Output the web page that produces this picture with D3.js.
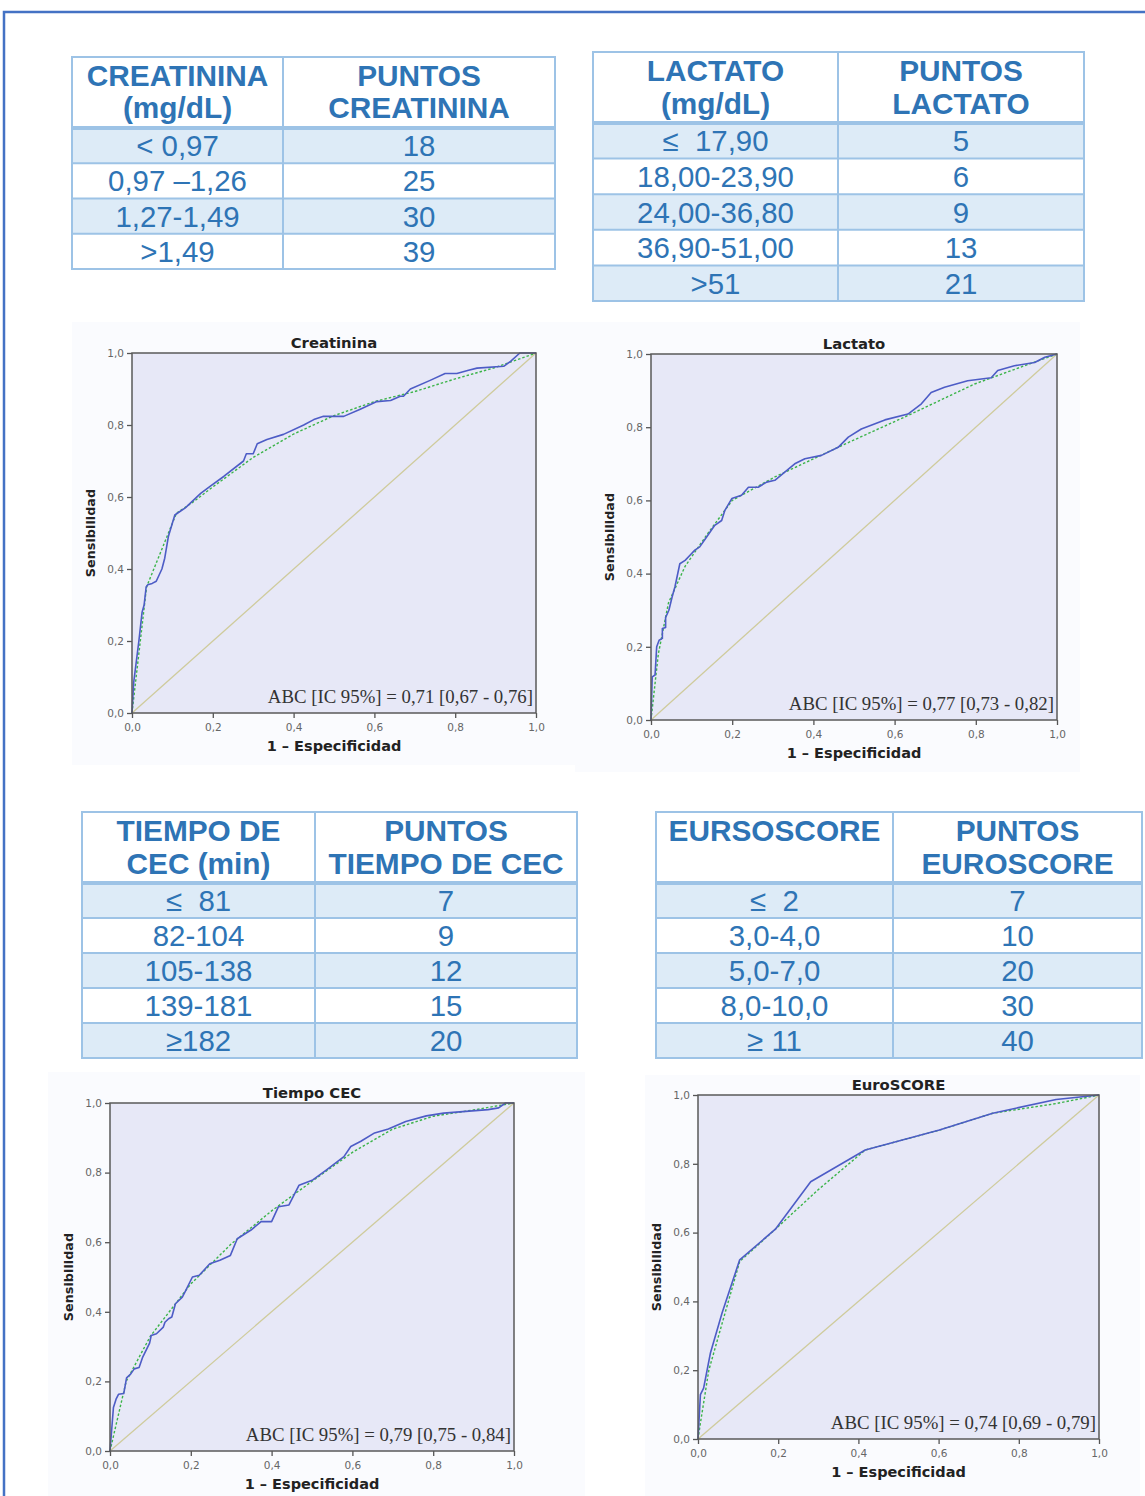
<!DOCTYPE html>
<html>
<head>
<meta charset="utf-8">
<script src="https://cdn.jsdelivr.net/npm/d3@7"></script>
<style>
  body { margin: 0; background: #fff; }
  svg { display: block; }
  text { white-space: pre; }
</style>
</head>
<body>
<svg id="chart" width="1145" height="1496"></svg>
<script>
// tablas de puntos
var creatininaCabecera = [["CREATININA", "(mg/dL)"], ["PUNTOS", "CREATININA"]];
var creatininaRangos = ["< 0,97", "0,97 \u20131,26", "1,27-1,49", ">1,49"];
var creatininaPuntos = [18, 25, 30, 39];

var lactatoCabecera = [["LACTATO", "(mg/dL)"], ["PUNTOS", "LACTATO"]];
var lactatoRangos = ["\u2264  17,90", "18,00-23,90", "24,00-36,80", "36,90-51,00", ">51"];
var lactatoPuntos = [5, 6, 9, 13, 21];

var cecCabecera = [["TIEMPO DE", "CEC (min)"], ["PUNTOS", "TIEMPO DE CEC"]];
var cecRangos = ["\u2264  81", "82-104", "105-138", "139-181", "\u2265182"];
var cecPuntos = [7, 9, 12, 15, 20];

var euroCabecera = [["EURSOSCORE"], ["PUNTOS", "EUROSCORE"]];
var euroRangos = ["\u2264  2", "3,0-4,0", "5,0-7,0", "8,0-10,0", "\u2265 11"];
var euroPuntos = [7, 10, 20, 30, 40];

// curvas ROC [1 - especificidad, sensibilidad]
var creatininaRoc = [[0,0],[0.004,0.083],[0.017,0.2],[0.019,0.22],[0.025,0.28],[0.03,0.3],[0.035,0.35],
  [0.039,0.356],[0.05,0.36],[0.06,0.366],[0.074,0.4],[0.081,0.43],[0.09,0.49],[0.106,0.55],[0.115,0.557],
  [0.132,0.57],[0.17,0.61],[0.194,0.63],[0.227,0.657],[0.276,0.7],[0.283,0.72],[0.3,0.72],[0.31,0.748],
  [0.334,0.76],[0.375,0.774],[0.425,0.8],[0.45,0.815],[0.474,0.824],[0.524,0.824],[0.565,0.844],[0.606,0.865],
  [0.64,0.868],[0.664,0.88],[0.672,0.88],[0.689,0.9],[0.738,0.924],[0.775,0.943],[0.804,0.943],[0.833,0.952],
  [0.854,0.958],[0.92,0.963],[0.937,0.977],[0.96,1],[1,1]];
var creatininaAjuste = [[0,0],[0.036,0.35],[0.11,0.555],[0.15,0.585],[0.2,0.628],[0.3,0.71],[0.4,0.775],
  [0.5,0.826],[0.6,0.865],[0.7,0.893],[0.8,0.928],[0.9,0.96],[1,1]];

var lactatoRoc = [[0,0],[0.003,0.118],[0.01,0.123],[0.014,0.2],[0.02,0.218],[0.028,0.223],[0.028,0.25],
  [0.036,0.253],[0.036,0.28],[0.044,0.3],[0.052,0.336],[0.059,0.364],[0.071,0.427],[0.084,0.436],[0.096,0.45],
  [0.108,0.464],[0.12,0.473],[0.137,0.5],[0.157,0.532],[0.174,0.545],[0.182,0.573],[0.199,0.605],[0.223,0.614],
  [0.24,0.636],[0.264,0.636],[0.285,0.65],[0.305,0.655],[0.354,0.7],[0.379,0.714],[0.42,0.723],[0.461,0.745],
  [0.486,0.773],[0.518,0.795],[0.576,0.82],[0.633,0.836],[0.666,0.864],[0.69,0.895],[0.723,0.909],[0.78,0.927],
  [0.838,0.935],[0.854,0.955],[0.895,0.968],[0.945,0.977],[0.97,0.991],[1,1]];
var lactatoAjuste = [[0,0],[0.018,0.18],[0.043,0.32],[0.084,0.42],[0.14,0.51],[0.2,0.6],[0.305,0.664],
  [0.47,0.75],[0.633,0.832],[0.797,0.918],[0.92,0.968],[1,1]];

var cecRoc = [[0,0],[0.0085,0.125],[0.015,0.149],[0.021,0.163],[0.034,0.165],[0.041,0.21],[0.051,0.221],
  [0.06,0.236],[0.072,0.24],[0.081,0.27],[0.098,0.31],[0.102,0.332],[0.115,0.337],[0.132,0.356],[0.136,0.37],
  [0.145,0.38],[0.153,0.385],[0.162,0.423],[0.179,0.442],[0.187,0.46],[0.204,0.5],[0.221,0.505],[0.247,0.538],
  [0.272,0.548],[0.298,0.562],[0.315,0.61],[0.349,0.635],[0.374,0.659],[0.4,0.659],[0.417,0.702],[0.443,0.707],
  [0.468,0.764],[0.502,0.779],[0.536,0.808],[0.579,0.846],[0.596,0.875],[0.621,0.89],[0.655,0.914],[0.689,0.925],
  [0.732,0.947],[0.783,0.963],[0.826,0.971],[0.936,0.981],[0.962,0.986],[0.979,1],[1,1]];
var cecAjuste = [[0,0],[0.04,0.2],[0.1,0.33],[0.2,0.48],[0.3,0.595],[0.4,0.69],[0.5,0.775],[0.6,0.858],
  [0.7,0.925],[0.8,0.962],[0.9,0.98],[1,1]];

var euroRoc = [[0,0],[0.006,0.129],[0.014,0.148],[0.031,0.25],[0.06,0.366],[0.104,0.521],[0.193,0.61],
  [0.281,0.748],[0.417,0.84],[0.602,0.898],[0.735,0.947],[0.893,0.987],[1,1]];
var euroAjuste = [[0,0],[0.006,0.046],[0.027,0.2],[0.104,0.516],[0.193,0.61],[0.3,0.725],[0.417,0.84],
  [0.602,0.898],[0.735,0.947],[0.893,0.975],[1,1]];

var titulos = ["Creatinina", "Lactato", "Tiempo CEC", "EuroSCORE"];
var abcTextos = ["ABC [IC 95%] = 0,71 [0,67 - 0,76]", "ABC [IC 95%] = 0,77 [0,73 - 0,82]",
  "ABC [IC 95%] = 0,79 [0,75 - 0,84]", "ABC [IC 95%] = 0,74 [0,69 - 0,79]"];
var ticks = [0, 0.2, 0.4, 0.6, 0.8, 1];

var AZUL = "#2e74b5",
  BORDE = "#9dc3e6",
  FRANJA = "#ddebf7";

var svg = d3.select("#chart");

// marco exterior
svg.append("path")
  .attr("d", d3.line()([[4, 1496], [4, 12], [1145, 12]]))
  .attr("fill", "none")
  .attr("stroke", "#4472c4")
  .attr("stroke-width", 2.5);

var fmt = d3.formatLocale({ decimal: ",", thousands: ".", grouping: [3], currency: ["", "\u20ac"] }).format(".1f");

function drawTable(cfg, cabecera, rangos, puntos) {
  var g = svg.append("g");
  var cols = [cfg.x0, cfg.split, cfg.x1];
  var filas = rangos.map(function(r, i) { return { rango: r, puntos: puntos[i], i: i }; });

  var yRow = d3.scaleBand().domain(d3.range(rangos.length)).range([cfg.headBottom, cfg.bottom]);

  g.selectAll("rect.franja").data(filas.filter(function(d) { return d.i % 2 === 0; }))
    .enter().append("rect")
    .attr("x", cfg.x0).attr("width", cfg.x1 - cfg.x0)
    .attr("y", function(d) { return yRow(d.i); })
    .attr("height", yRow.bandwidth())
    .attr("fill", FRANJA);

  // lineas horizontales
  var hs = d3.range(1, rangos.length).map(function(i) { return yRow(i); });
  g.selectAll("line.h").data(hs).enter().append("line")
    .attr("x1", cfg.x0).attr("x2", cfg.x1)
    .attr("y1", function(d) { return d; }).attr("y2", function(d) { return d; })
    .attr("stroke", BORDE).attr("stroke-width", 2);
  g.append("line")
    .attr("x1", cfg.x0).attr("x2", cfg.x1)
    .attr("y1", cfg.headBottom).attr("y2", cfg.headBottom)
    .attr("stroke", BORDE).attr("stroke-width", 4);
  g.append("line")
    .attr("x1", cfg.split).attr("x2", cfg.split)
    .attr("y1", cfg.top).attr("y2", cfg.bottom)
    .attr("stroke", BORDE).attr("stroke-width", 2);
  g.append("rect")
    .attr("x", cfg.x0).attr("y", cfg.top)
    .attr("width", cfg.x1 - cfg.x0).attr("height", cfg.bottom - cfg.top)
    .attr("fill", "none").attr("stroke", BORDE).attr("stroke-width", 2);

  // cabecera
  cabecera.forEach(function(lineas, c) {
    var cx = (cols[c] + cols[c + 1]) / 2;
    lineas.forEach(function(t, k) {
      g.append("text")
        .attr("x", cx).attr("y", cfg.headBase[k])
        .attr("text-anchor", "middle")
        .attr("font-family", "'Liberation Sans', Arial, sans-serif")
        .attr("font-weight", "bold").attr("font-size", 29.8)
        .attr("fill", AZUL)
        .text(t);
    });
  });

  // cuerpo
  var cuerpo = g.selectAll("g.fila").data(filas).enter().append("g")
    .attr("transform", function(d) { return "translate(0," + (yRow(d.i) + yRow.bandwidth() / 2 + 10.5) + ")"; });
  cuerpo.append("text")
    .attr("x", (cols[0] + cols[1]) / 2)
    .text(function(d) { return d.rango; });
  cuerpo.append("text")
    .attr("x", (cols[1] + cols[2]) / 2)
    .text(function(d) { return d.puntos; });
  cuerpo.selectAll("text")
    .attr("text-anchor", "middle")
    .attr("font-family", "'Liberation Sans', Arial, sans-serif")
    .attr("font-size", 29.4)
    .attr("fill", AZUL);
}

drawTable({ x0: 72, split: 283, x1: 555, top: 57, headBottom: 128, bottom: 269, headBase: [86, 118] },
  creatininaCabecera, creatininaRangos, creatininaPuntos);
drawTable({ x0: 593, split: 838, x1: 1084, top: 52, headBottom: 123, bottom: 301, headBase: [81, 114] },
  lactatoCabecera, lactatoRangos, lactatoPuntos);
drawTable({ x0: 82, split: 315, x1: 577, top: 812, headBottom: 883, bottom: 1058, headBase: [841, 874] },
  cecCabecera, cecRangos, cecPuntos);
drawTable({ x0: 656, split: 893, x1: 1142, top: 812, headBottom: 883, bottom: 1058, headBase: [841, 874] },
  euroCabecera, euroRangos, euroPuntos);

function drawRoc(cfg, titulo, abc, roc, ajuste) {
  var g = svg.append("g");
  g.append("rect")
    .attr("x", cfg.box[0]).attr("y", cfg.box[1])
    .attr("width", cfg.box[2]).attr("height", cfg.box[3])
    .attr("fill", "#fafbfe");

  var x = d3.scaleLinear().domain([0, 1]).range([cfg.left, cfg.right]);
  var y = d3.scaleLinear().domain([0, 1]).range([cfg.bottom, cfg.top]);

  g.append("rect")
    .attr("x", x(0)).attr("y", y(1))
    .attr("width", x(1) - x(0)).attr("height", y(0) - y(1))
    .attr("fill", "#e7e8f7");

  var line = d3.line().x(function(d) { return x(d[0]); }).y(function(d) { return y(d[1]); });

  g.append("path").attr("d", line([[0, 0], [1, 1]]))
    .attr("fill", "none").attr("stroke", "#cfcb9c").attr("stroke-width", 1.3);
  g.append("path").attr("d", line(ajuste))
    .attr("fill", "none").attr("stroke", "#3cb44a").attr("stroke-width", 1.4)
    .attr("stroke-dasharray", "2.5,2");
  g.append("path").attr("d", line(roc))
    .attr("fill", "none").attr("stroke", "#4d5cc6").attr("stroke-width", 1.6)
    .attr("stroke-linejoin", "round");

  var xAxis = g.append("g").attr("transform", "translate(0," + cfg.bottom + ")")
    .call(d3.axisBottom(x).tickValues(ticks).tickFormat(fmt).tickSize(5).tickSizeOuter(0));
  var yAxis = g.append("g").attr("transform", "translate(" + cfg.left + ",0)")
    .call(d3.axisLeft(y).tickValues(ticks).tickFormat(fmt).tickSize(5).tickSizeOuter(0));
  [xAxis, yAxis].forEach(function(a) {
    a.select(".domain").remove();
    a.selectAll("line").attr("stroke", "#555").attr("stroke-width", 1.3);
    a.selectAll("text")
      .attr("font-family", "'DejaVu Sans', sans-serif")
      .attr("font-size", 10.5)
      .attr("fill", "#666");
  });
  xAxis.selectAll("text").attr("dy", "0.95em");

  g.append("rect")
    .attr("x", x(0)).attr("y", y(1))
    .attr("width", x(1) - x(0)).attr("height", y(0) - y(1))
    .attr("fill", "none").attr("stroke", "#5a5a5a").attr("stroke-width", 1.5);

  g.append("text")
    .attr("x", (cfg.left + cfg.right) / 2).attr("y", cfg.top - 5)
    .attr("text-anchor", "middle")
    .attr("font-family", "'DejaVu Sans', sans-serif")
    .attr("font-weight", "bold").attr("font-size", 14.8)
    .attr("fill", "#222")
    .text(titulo);

  g.append("text")
    .attr("x", (cfg.left + cfg.right) / 2).attr("y", cfg.bottom + 38)
    .attr("text-anchor", "middle")
    .attr("font-family", "'DejaVu Sans', sans-serif")
    .attr("font-weight", "bold").attr("font-size", 14.5)
    .attr("fill", "#222")
    .text("1 \u2013 Especificidad");

  g.append("text")
    .attr("transform", "translate(" + (cfg.left - 37) + "," + ((cfg.top + cfg.bottom) / 2) + ") rotate(-90)")
    .attr("text-anchor", "middle")
    .attr("font-family", "'DejaVu Sans', sans-serif")
    .attr("font-weight", "bold").attr("font-size", 12.8)
    .attr("fill", "#222")
    .text("Sensibilidad");

  g.append("text")
    .attr("x", cfg.right - 3).attr("y", cfg.bottom - 10)
    .attr("text-anchor", "end")
    .attr("font-family", "'Liberation Serif', 'Times New Roman', serif")
    .attr("font-size", 18.8)
    .attr("fill", "#333")
    .text(abc);
}

drawRoc({ left: 132, right: 536, top: 353, bottom: 713, box: [72, 322, 505, 443] },
  titulos[0], abcTextos[0], creatininaRoc, creatininaAjuste);
drawRoc({ left: 651, right: 1057, top: 354, bottom: 720, box: [575, 322, 505, 450] },
  titulos[1], abcTextos[1], lactatoRoc, lactatoAjuste);
drawRoc({ left: 110, right: 514, top: 1103, bottom: 1451, box: [48, 1072, 537, 424] },
  titulos[2], abcTextos[2], cecRoc, cecAjuste);
drawRoc({ left: 698, right: 1099, top: 1095, bottom: 1439, box: [645, 1075, 495, 421] },
  titulos[3], abcTextos[3], euroRoc, euroAjuste);
</script>
</body>
</html>
